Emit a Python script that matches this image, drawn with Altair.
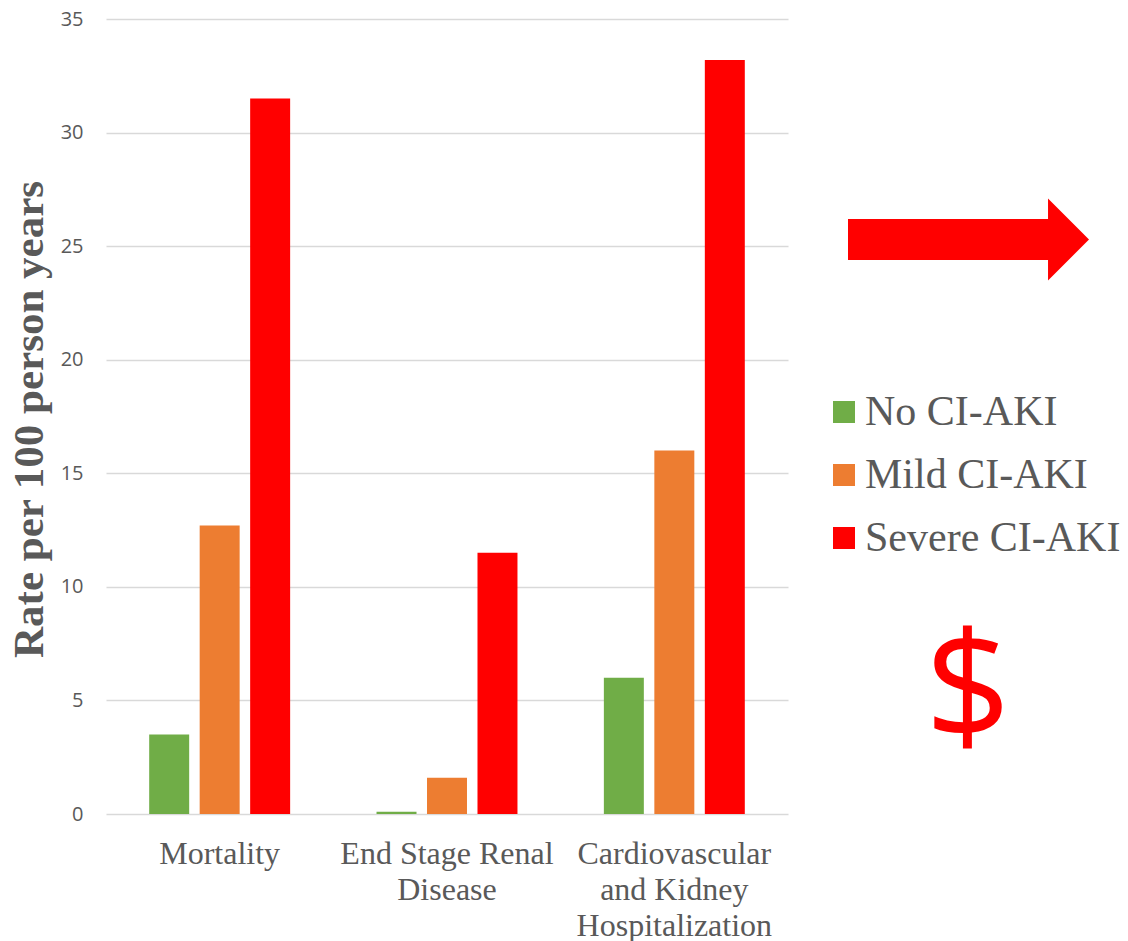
import altair as alt
import pandas as pd

# Outcome categories and the CI-AKI severity groups
categories = ["Mortality", "End Stage Renal Disease", "Cardiovascular and Kidney Hospitalization"]
category_lines = [["Mortality"], ["End Stage Renal", "Disease"], ["Cardiovascular", "and Kidney", "Hospitalization"]]
series = ["No CI-AKI", "Mild CI-AKI", "Severe CI-AKI"]
series_colors = ["#70ad47", "#ed7d31", "#ff0000"]

# Rate per 100 person years, one list per severity group (in category order)
no_aki = [3.5, 0.1, 6.0]
mild_aki = [12.7, 1.6, 16.0]
severe_aki = [31.5, 11.5, 33.2]

y_ticks = [0, 5, 10, 15, 20, 25, 30, 35]

rows = []
for s, vals in zip(series, [no_aki, mild_aki, severe_aki]):
    for c, v in zip(categories, vals):
        rows.append({"category": c, "series": s, "value": v})
df = pd.DataFrame(rows)

# Multi-line axis labels
label_expr = ""
for c, lines in zip(categories, category_lines):
    arr = "[" + ", ".join("'" + l + "'" for l in lines) + "]"
    label_expr += f"datum.label == '{c}' ? {arr} : "
label_expr += "datum.label"

GREY = "#595959"

bars = alt.Chart(df).mark_bar().encode(
    x=alt.X(
        "category:N",
        sort=categories,
        title=None,
        scale=alt.Scale(paddingInner=0.38, paddingOuter=0.19),
        axis=alt.Axis(
            labelExpr=label_expr,
            labelAngle=0,
            labelFont="Liberation Serif",
            labelFontSize=32,
            labelColor=GREY,
            labelLineHeight=36,
            labelPadding=24,
            labelLimit=400,
            labelOverlap=False,
            ticks=False,
            domain=False,
            grid=False,
        ),
    ),
    xOffset=alt.XOffset(
        "series:N",
        sort=series,
        scale=alt.Scale(paddingInner=0.208, paddingOuter=0),
    ),
    y=alt.Y(
        "value:Q",
        scale=alt.Scale(domain=[0, 35], nice=False),
        title="Rate  per 100 person years",
        axis=alt.Axis(
            values=y_ticks,
            labelFont="Open Sans",
            labelFontSize=20,
            labelColor=GREY,
            labelPadding=23,
            ticks=False,
            domain=False,
            grid=True,
            gridColor="#d9d9d9",
            gridWidth=1.5,
            titleFont="Liberation Serif",
            titleFontSize=43,
            titleFontWeight="bold",
            titleColor=GREY,
            titleX=-64,
            titleY=400,
            titleAngle=270,
            titleBaseline="alphabetic",
            titleAlign="center",
        ),
    ),
    color=alt.Color(
        "series:N",
        sort=series,
        scale=alt.Scale(domain=series, range=series_colors),
        legend=alt.Legend(
            title=None,
            orient="none",
            legendX=717,
            legendY=372,
            padding=0,
            symbolType="square",
            symbolSize=484,
            symbolStrokeWidth=0,
            labelFont="Liberation Serif",
            labelFontSize=42,
            labelColor=GREY,
            labelOffset=0,
            labelLimit=500,
            rowPadding=21,
        ),
    ),
)

one = pd.DataFrame({"k": [0]})

# Red arrow pointing right, drawn as a custom symbol
arrow_path = "M -1 -0.17 L 0.66 -0.17 L 0.66 -0.34 L 1 0 L 0.66 0.34 L 0.66 0.17 L -1 0.17 Z"
arrow = alt.Chart(one).mark_point(
    shape=arrow_path, filled=True, color="#ff0000", opacity=1, size=58081, strokeWidth=0
).encode(x=alt.value(862.5), y=alt.value(220.5))

# Dollar sign
dollar = alt.Chart(one).mark_text(
    text="$", font="Open Sans", fontSize=150, color="#ff0000", align="center", baseline="alphabetic"
).encode(x=alt.value(862), y=alt.value(721))

chart = alt.layer(bars, arrow, dollar).properties(
    width=682,
    height=795,
    background="white",
    autosize=alt.AutoSizeParams(type="none"),
    padding={"left": 106, "top": 19, "right": 340, "bottom": 127},
).configure_view(stroke="transparent", strokeWidth=0)

chart.save("out.html", embed_options={"renderer": "svg", "actions": False})
